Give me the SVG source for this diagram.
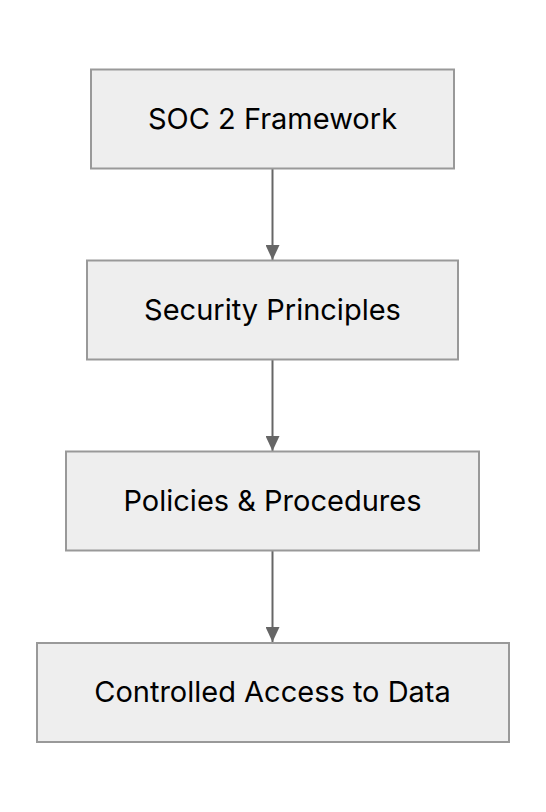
<svg xmlns="http://www.w3.org/2000/svg" width="546" height="812" viewBox="0 0 546 812">
<style>
.box{fill:#eeeeee;stroke:#999999;stroke-width:2}
.lbl{font-family:Inter,"Noto Sans","DejaVu Sans",sans-serif;font-size:29px;fill:#000000;text-anchor:middle}
.edge{stroke:#666666;stroke-width:2;fill:none}
</style>
<defs>
<marker id="arr" markerWidth="16" markerHeight="14" refX="15" refY="7" orient="auto" markerUnits="userSpaceOnUse">
<path d="M0,0 L15,7 L0,14 Z" fill="#666666"/>
</marker>
</defs>
<rect width="546" height="812" fill="#ffffff"/>
<g id="connectors">
<line class="edge" x1="272.5" y1="169" x2="272.5" y2="260" marker-end="url(#arr)"/>
<line class="edge" x1="272.5" y1="360" x2="272.5" y2="451" marker-end="url(#arr)"/>
<line class="edge" x1="272.5" y1="551" x2="272.5" y2="642" marker-end="url(#arr)"/>
</g>
<g id="n1">
<rect class="box" x="91" y="69.5" width="363" height="99"/>
<text class="lbl" x="272.5" y="129">SOC 2 Framework</text>
</g>
<g id="n2">
<rect class="box" x="87" y="260.5" width="371" height="99"/>
<text class="lbl" x="272.5" y="320">Security Principles</text>
</g>
<g id="n3">
<rect class="box" x="66" y="451.5" width="413" height="99"/>
<text class="lbl" x="272.5" y="511">Policies &amp; Procedures</text>
</g>
<g id="n4">
<rect class="box" x="37" y="643" width="472" height="99"/>
<text class="lbl" x="272.5" y="702">Controlled Access to Data</text>
</g>
</svg>
